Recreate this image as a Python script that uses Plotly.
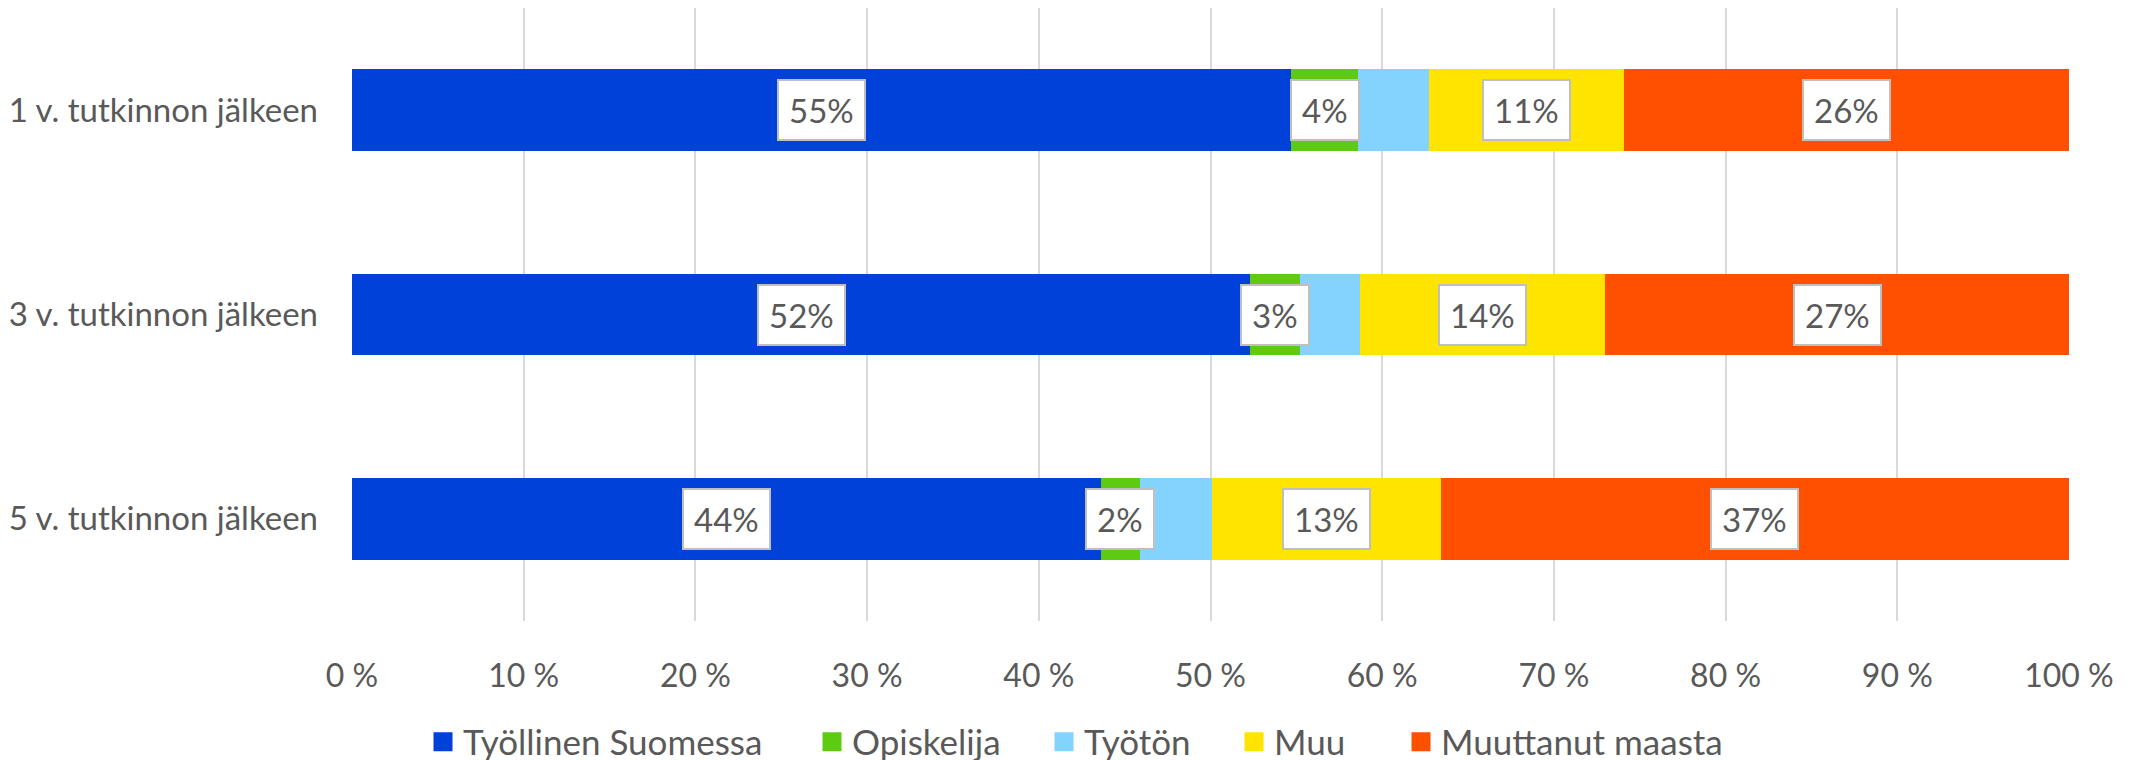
import plotly.graph_objects as go

categories = ["1 v. tutkinnon jälkeen", "3 v. tutkinnon jälkeen", "5 v. tutkinnon jälkeen"]
series_names = ["Työllinen Suomessa", "Opiskelija", "Työtön", "Muu", "Muuttanut maasta"]
tyollinen = [54.7, 52.3, 43.6]
opiskelija = [3.9, 2.9, 2.3]
tyoton = [4.1, 3.5, 4.2]
muu = [11.4, 14.3, 13.3]
muuttanut = [25.9, 27.0, 36.6]
show_labels = [True, True, False, True, True]
colors = ["#0041D9", "#5CCB12", "#84D3FF", "#FFE400", "#FF5000"]
tick_vals = [0, 10, 20, 30, 40, 50, 60, 70, 80, 90, 100]
tick_labels = ["0 %", "10 %", "20 %", "30 %", "40 %", "50 %", "60 %", "70 %", "80 %", "90 %", "100 %"]

series = [tyollinen, opiskelija, tyoton, muu, muuttanut]
FONT = "Lato"
TXT = "#595959"
W, H = 2131, 760
legend_centers = [437, 826, 1058, 1248, 1415]  # x of legend squares (px)

fig = go.Figure()
for name, vals, col in zip(series_names, series, colors):
    fig.add_trace(go.Bar(
        y=categories, x=vals, name=name, orientation="h",
        marker=dict(color=col, line=dict(width=0)),
        showlegend=False, hoverinfo="x+name",
    ))
# legend entries with larger square icons, each in its own legend box
legend_layouts = {}
for i, (name, col) in enumerate(zip(series_names, colors)):
    lname = "legend" if i == 0 else f"legend{i + 1}"
    fig.add_trace(go.Scatter(
        x=[None], y=[None], mode="markers", name=name, legend=lname,
        marker=dict(symbol="square", size=16, color=col,
                    line=dict(color=col, width=3)),
    ))
    legend_layouts[lname] = dict(
        orientation="h", xref="container", yref="container",
        x=(legend_centers[i] - 22) / W, y=1 - 734 / H,
        xanchor="left", yanchor="middle",
        font=dict(family=FONT, size=35, color=TXT),
        bgcolor="rgba(0,0,0,0)", borderwidth=0,
    )

# data labels
annotations = []
for ci, cat in enumerate(categories):
    left = 0.0
    for si, vals in enumerate(series):
        v = vals[ci]
        if show_labels[si]:
            annotations.append(dict(
                x=left + v / 2, y=cat, xref="x", yref="y",
                text=f"{round(v)}%", showarrow=False,
                font=dict(family=FONT, size=33, color=TXT),
                bgcolor="white", bordercolor="#BFBFBF", borderwidth=2,
                borderpad=10, height=38,
            ))
        left += v

fig.update_layout(
    width=W, height=H,
    barmode="stack", bargap=0.6,
    plot_bgcolor="white", paper_bgcolor="white",
    margin=dict(l=344, r=70, t=0, b=147),
    font=dict(family=FONT, size=32, color=TXT),
    annotations=annotations,
    xaxis=dict(
        range=[0, 100], tickvals=tick_vals, ticktext=tick_labels,
        showgrid=True, gridcolor="#D9D9D9", gridwidth=2,
        zeroline=False, showline=False, ticks="",
        ticklabelstandoff=33, fixedrange=True,
        tickfont=dict(family=FONT, size=32, color=TXT),
    ),
    yaxis=dict(
        autorange="reversed", showgrid=False, zeroline=False, showline=False,
        ticks="", ticklabelstandoff=33,
        tickfont=dict(family=FONT, size=33, color=TXT),
    ),
    **legend_layouts,
)

fig.write_html("out.html")
